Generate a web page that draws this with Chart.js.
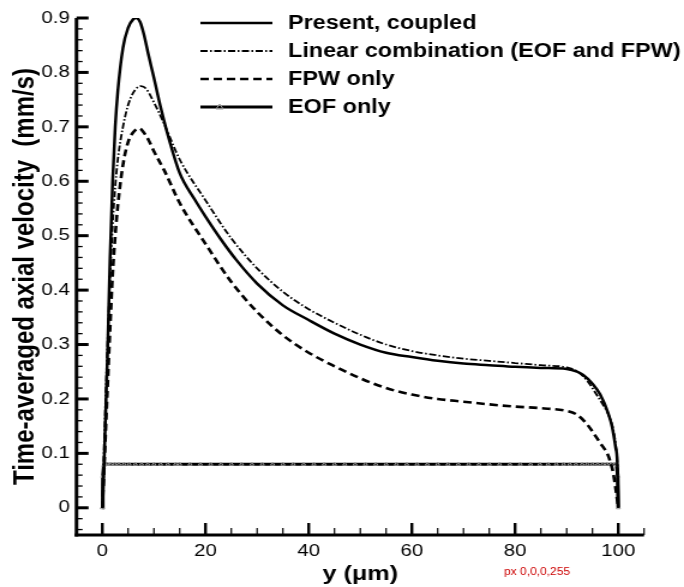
<!DOCTYPE html>
<html>
<head>
<meta charset="utf-8">
<script src="https://cdn.jsdelivr.net/npm/chart.js@4/dist/chart.umd.min.js"></script>
<style>
html,body{margin:0;padding:0;background:#fff;overflow:hidden}
canvas{display:block}
</style>
</head>
<body>
<canvas id="velChart" width="570" height="587" style="width:684px;height:587px"></canvas>
<script>
// values, y in um, velocity in mm/s
const presentX=[0,0.3,0.6,1,1.5,2,2.5,3,4,5,6,6.6,7.3,8,9,10,11,12,13,15,18,20,23,26,30,35,40,45,50,55,60,65,70,75,80,85,90,92,93.2,95,96.5,98,98.8,99.5,99.8,100]
const presentY=[0,0.07,0.16,0.28,0.46,0.6,0.7,0.765,0.845,0.882,0.898,0.9,0.893,0.872,0.83,0.79,0.748,0.71,0.675,0.615,0.565,0.535,0.493,0.455,0.412,0.372,0.345,0.32,0.3,0.285,0.277,0.27,0.265,0.262,0.259,0.257,0.255,0.25,0.244,0.228,0.208,0.175,0.149,0.11,0.085,0]

const combX=[0,0.3,0.6,1,1.5,2,2.5,3,4,5,6,7.5,8.5,10,12,15,20,25,30,35,40,45,50,55,60,65,70,75,80,85,90,92,94,96,97,98,99,99.5,99.8,100]
const combY=[0,0.1,0.19,0.3,0.42,0.52,0.59,0.64,0.7,0.74,0.763,0.775,0.77,0.745,0.705,0.64,0.565,0.495,0.44,0.397,0.365,0.34,0.318,0.3,0.288,0.28,0.274,0.27,0.266,0.262,0.258,0.251,0.233,0.205,0.19,0.173,0.145,0.115,0.085,0]

const fpwX=[0,0.3,0.6,1,1.5,2,2.5,3,4,5,6,7.2,8,9,10,12,15,20,25,30,35,40,45,50,55,60,65,70,75,80,85,90,92,94,95,96.5,98,98.5,99,99.5,100]
const fpwY=[0,0.06,0.13,0.22,0.33,0.43,0.5,0.555,0.63,0.672,0.69,0.697,0.69,0.675,0.655,0.62,0.56,0.485,0.415,0.36,0.317,0.285,0.26,0.238,0.22,0.208,0.2,0.195,0.19,0.186,0.183,0.178,0.171,0.153,0.14,0.119,0.097,0.083,0.065,0.035,0]

const eofX=[0,0.1,0.3,0.6,1.0,1.6,2.4,3.2,4.2,5.2,6.4,7.6,8.8,10.0,11.3,12.7,14.2,15.0,17,19,
  21,23,25,27,29,31,33,35,37,39,41,43,45,47,49,51,53,55,57,59,
  61,63,65,67,69,71,73,75,77,79,81,83,84.8,86.4,88.0,89.4,90.6,91.8,93.0,94.0,
  95.0,96.0,97.0,97.8,98.6,99.3,99.7,99.9,100]
const eofY=[0,0.058,0.078,0.08,0.08,0.08,0.08,0.08,0.08,0.08,0.08,0.08,0.08,0.08,0.08,0.08,0.08,0.08,0.08,0.08,
  0.08,0.08,0.08,0.08,0.08,0.08,0.08,0.08,0.08,0.08,0.08,0.08,0.08,0.08,0.08,0.08,0.08,0.08,0.08,0.08,
  0.08,0.08,0.08,0.08,0.08,0.08,0.08,0.08,0.08,0.08,0.08,0.08,0.08,0.08,0.08,0.08,0.08,0.08,0.08,0.08,
  0.08,0.08,0.08,0.08,0.08,0.08,0.078,0.058,0]

const seriesNames=['Present, coupled','Linear combination (EOF and FPW)','FPW only','EOF only']
const xTicks=[0,20,40,60,80,100]
const yTicks=[0,0.1,0.2,0.3,0.4,0.5,0.6,0.7,0.8,0.9]

const fontFamily='"Liberation Sans", Arial, sans-serif'
const pts=(xs,ys)=>xs.map((x,i)=>({x:x,y:ys[i]}))

// axis lines and inward ticks (major + minor)
function drawAxes(chart){
  const c=chart.ctx
  const a=chart.chartArea
  const xs=chart.scales.x
  const ys=chart.scales.y
  c.save()
  c.fillStyle='#000'
  c.fillRect(a.left-1.5,a.top,3,a.bottom-a.top+1.5)
  c.fillRect(a.left-1.5,a.bottom-1.5,a.right-a.left+1.5,3)
  for(let i=-1;i<=21;i++){
    const v=i*5
    const major=xTicks.includes(v)
    const px=xs.getPixelForValue(v)
    const w=major?2.4:1.2
    const len=major?12:7
    c.fillRect(px-w/2,a.bottom-len,w,len)
  }
  for(let i=-2;i<=45;i++){
    const major=i>=0 && i%5===0
    const py=ys.getPixelForValue(i*0.02)
    const h=major?3:1.3
    c.fillRect(a.left,py-h/2,major?10:5,h)
  }
  c.restore()
}

const frame={
  id:'frame',
  afterDraw(chart){
    const c=chart.ctx
    c.save()
    chart.data.datasets.forEach((ds,i)=>{
      const y=23+i*28
      c.strokeStyle='#000'
      c.lineWidth=ds.borderWidth
      c.setLineDash(ds.borderDash||[])
      c.beginPath()
      c.moveTo(167,y)
      c.lineTo(227,y)
      c.stroke()
      c.setLineDash([])
      if(ds.pointRadius>0){
        c.lineWidth=1
        c.strokeStyle=ds.pointBorderColor
        c.beginPath()
        c.moveTo(183,y-3)
        c.lineTo(186,y+2)
        c.lineTo(180,y+2)
        c.closePath()
        c.stroke()
      }
      c.fillStyle='#000'
      c.font='bold 19.5px '+fontFamily
      c.textBaseline='middle'
      c.fillText(ds.label,240,y+1)
    })
    c.restore()
    drawAxes(chart)
    // pixel check on the y axis line
    const a=chart.chartArea
    const p=c.getImageData(Math.round(a.left),300,1,1).data
    c.save()
    c.fillStyle='#c00'
    c.font='10px '+fontFamily
    c.fillText('px '+p[0]+','+p[1]+','+p[2]+','+p[3],420,575)
    c.restore()
  }
}

new Chart(document.getElementById('velChart'),{
  type:'line',
  data:{
    datasets:[{
      label:seriesNames[0],
      data:pts(presentX,presentY),
      borderColor:'#000',
      borderWidth:2.5,
      pointRadius:0,
      cubicInterpolationMode:'monotone'
    },{
      label:seriesNames[1],
      data:pts(combX,combY),
      borderColor:'#000',
      borderWidth:1.8,
      borderDash:[6,2,1.5,2],
      pointRadius:0,
      cubicInterpolationMode:'monotone'
    },{
      label:seriesNames[2],
      data:pts(fpwX,fpwY),
      borderColor:'#000',
      borderWidth:2.6,
      borderDash:[7,4],
      pointRadius:0,
      cubicInterpolationMode:'monotone'
    },{
      label:seriesNames[3],
      data:pts(eofX,eofY),
      borderColor:'#000',
      borderWidth:3,
      pointStyle:'triangle',
      pointRadius:2,
      pointBorderWidth:1,
      pointBorderColor:'#999',
      pointBackgroundColor:'rgba(255,255,255,0)',
      tension:0
    }]
  },
  options:{
    responsive:false,
    animation:false,
    devicePixelRatio:1,
    layout:{padding:{top:18,right:33.3,bottom:0,left:0}},
    plugins:{legend:{display:false},tooltip:{enabled:false}},
    scales:{
      x:{
        type:'linear',
        min:-5,
        max:105,
        afterBuildTicks:(s)=>{s.ticks=xTicks.map(v=>({value:v}))},
        afterFit:(s)=>{s.height=52},
        grid:{display:false,drawTicks:false},
        border:{display:false},
        ticks:{color:'#000',padding:6,font:{family:fontFamily,size:17}},
        title:{display:true,text:'y (μm)',color:'#000',padding:{top:0,bottom:0},font:{family:fontFamily,size:21,weight:'bold'}}
      },
      y:{
        type:'linear',
        min:-0.05,
        max:0.9,
        afterBuildTicks:(s)=>{s.ticks=yTicks.map(v=>({value:v}))},
        afterFit:(s)=>{s.width=63.75},
        grid:{display:false,drawTicks:false},
        border:{display:false},
        ticks:{color:'#000',padding:5.5,font:{family:fontFamily,size:17},callback:(v)=>v===0?'0':v.toFixed(1)},
        title:{display:true,text:'Time-averaged axial velocity  (mm/s)',color:'#000',padding:{top:7,bottom:0},font:{family:fontFamily,size:24,weight:'bold'}}
      }
    }
  },
  plugins:[frame]
})
</script>
</body>
</html>
